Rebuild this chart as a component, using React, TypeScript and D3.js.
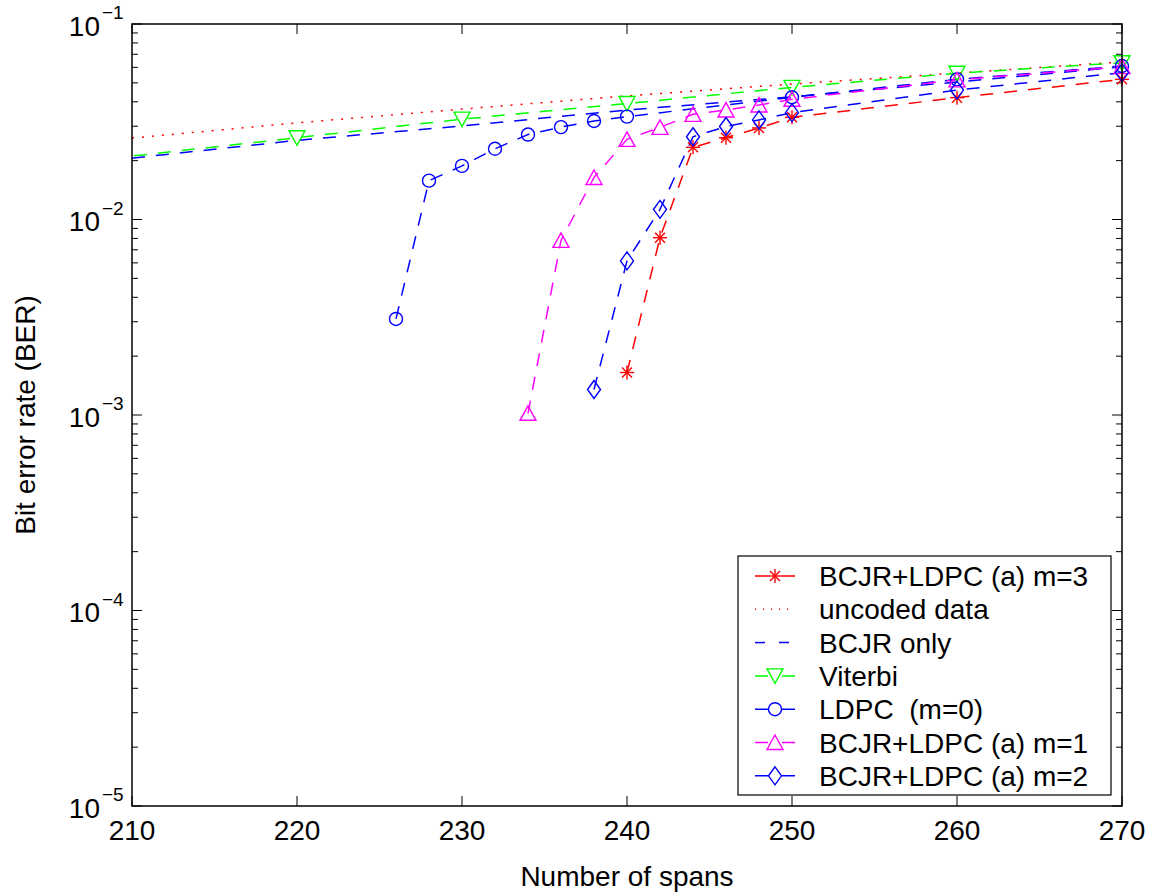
import React from "react";
import * as d3 from "d3";

// ---------- data ----------
const SPANS_M3 = [240, 242, 244, 246, 248, 250, 260, 270];
const BER_M3 = [0.00165, 0.00807, 0.0234, 0.0262, 0.0294, 0.0333, 0.042, 0.0521];

const SPANS_UNCODED = [210, 220, 230, 240, 250, 260, 270];
const BER_UNCODED = [0.0261, 0.0312, 0.0367, 0.0429, 0.0493, 0.0561, 0.064];

const SPANS_BCJR = [210, 220, 230, 240, 250, 260, 270];
const BER_BCJR = [0.0206, 0.0254, 0.0301, 0.0363, 0.0424, 0.0505, 0.0603];

const SPANS_VITERBI = [200, 220, 230, 240, 250, 260, 270];
const BER_VITERBI = [0.017, 0.0262, 0.0326, 0.0392, 0.0474, 0.056, 0.0634];

const SPANS_LDPC = [226, 228, 230, 232, 234, 236, 238, 240, 250, 260, 270];
const BER_LDPC = [0.0031, 0.0158, 0.0188, 0.023, 0.0272, 0.0297, 0.0319, 0.0336, 0.0422, 0.0521, 0.061];

const SPANS_M1 = [234, 236, 238, 240, 242, 244, 246, 248, 250, 260, 270];
const BER_M1 = [0.00102, 0.00782, 0.0164, 0.0257, 0.0296, 0.0345, 0.0363, 0.0385, 0.0412, 0.0518, 0.0605];

const SPANS_M2 = [238, 240, 242, 244, 246, 248, 250, 260, 270];
const BER_M2 = [0.00135, 0.00614, 0.01127, 0.0265, 0.0299, 0.0323, 0.0352, 0.0459, 0.0564];

const X_TICKS = [210, 220, 230, 240, 250, 260, 270];
const Y_DECADES = [-1, -2, -3, -4, -5];

const X_LABEL = "Number of spans";
const Y_LABEL = "Bit error rate (BER)";

type Marker = "star" | "none" | "tdown" | "circle" | "tup" | "diamond";
interface Series {
  name: string;
  xs: number[];
  ys: number[];
  color: string;
  dash: string;
  marker: Marker;
}

const SERIES: Series[] = [
  { name: "BCJR+LDPC (a) m=3", xs: SPANS_M3, ys: BER_M3, color: "#ff0000", dash: "13,11", marker: "star" },
  { name: "uncoded data", xs: SPANS_UNCODED, ys: BER_UNCODED, color: "#ff0000", dash: "2,8", marker: "none" },
  { name: "BCJR only", xs: SPANS_BCJR, ys: BER_BCJR, color: "#0000ff", dash: "13,11", marker: "none" },
  { name: "Viterbi", xs: SPANS_VITERBI, ys: BER_VITERBI, color: "#00ff00", dash: "13,11", marker: "tdown" },
  { name: "LDPC  (m=0)", xs: SPANS_LDPC, ys: BER_LDPC, color: "#0000ff", dash: "13,11", marker: "circle" },
  { name: "BCJR+LDPC (a) m=1", xs: SPANS_M1, ys: BER_M1, color: "#ff00ff", dash: "13,11", marker: "tup" },
  { name: "BCJR+LDPC (a) m=2", xs: SPANS_M2, ys: BER_M2, color: "#0000ff", dash: "13,11", marker: "diamond" },
];

const W = 1156;
const H = 896;
const L = 132, R = 1122, T = 24, B = 806;
const FONT = "'Liberation Sans', Arial, Helvetica, sans-serif";

function MarkerShape({ type, x, y, color }: { type: Marker; x: number; y: number; color: string }) {
  const common = { fill: "none", stroke: color, strokeWidth: 1.4 };
  if (type === "circle") return <circle cx={x} cy={y} r={6.5} {...common} />;
  if (type === "tup")
    return <polygon points={`${x},${y - 7.5} ${x + 8},${y + 7} ${x - 8},${y + 7}`} {...common} />;
  if (type === "tdown")
    return <polygon points={`${x - 8},${y - 7} ${x + 8},${y - 7} ${x},${y + 7.5}`} {...common} />;
  if (type === "diamond")
    return <polygon points={`${x},${y - 9} ${x + 6.5},${y} ${x},${y + 9} ${x - 6.5},${y}`} {...common} />;
  if (type === "star") {
    const r = 7, d = 5;
    return (
      <g stroke={color} strokeWidth={1.4}>
        <line x1={x - r} y1={y} x2={x + r} y2={y} />
        <line x1={x} y1={y - r} x2={x} y2={y + r} />
        <line x1={x - d} y1={y - d} x2={x + d} y2={y + d} />
        <line x1={x - d} y1={y + d} x2={x + d} y2={y - d} />
      </g>
    );
  }
  return null;
}

export default function App() {
  const x = d3.scaleLinear().domain([210, 270]).range([L, R]);
  const y = d3.scaleLog().domain([1e-5, 1e-1]).range([B, T]);
  const line = d3
    .line<[number, number]>()
    .x((d) => x(d[0]))
    .y((d) => y(d[1]));

  const minorTicks: number[] = [];
  for (let e = -5; e < -1; e++) {
    for (let k = 2; k <= 9; k++) minorTicks.push(k * Math.pow(10, e));
  }

  const legX = 738, legY = 556, legW = 373, legH = 239;
  const rowY = (i: number) => 576 + i * 33.3;

  return (
    <svg
      width={W}
      height={H}
      style={{ position: "absolute", left: 0, top: 0, background: "#fff" }}
      fontFamily={FONT}
    >
      <rect x={0} y={0} width={W} height={H} fill="#fff" />
      <defs>
        <clipPath id="plotClip">
          <rect x={L} y={T} width={R - L} height={B - T} />
        </clipPath>
      </defs>

      {/* ticks */}
      <g stroke="#000" strokeWidth={1}>
        {X_TICKS.map((t) => (
          <g key={"xt" + t}>
            <line x1={x(t)} x2={x(t)} y1={B} y2={B - 10} />
            <line x1={x(t)} x2={x(t)} y1={T} y2={T + 10} />
          </g>
        ))}
        {Y_DECADES.map((e) => (
          <g key={"yt" + e}>
            <line x1={L} x2={L + 10} y1={y(Math.pow(10, e))} y2={y(Math.pow(10, e))} />
            <line x1={R} x2={R - 10} y1={y(Math.pow(10, e))} y2={y(Math.pow(10, e))} />
          </g>
        ))}
        {minorTicks.map((v, i) => (
          <g key={"ym" + i}>
            <line x1={L} x2={L + 6} y1={y(v)} y2={y(v)} />
            <line x1={R} x2={R - 6} y1={y(v)} y2={y(v)} />
          </g>
        ))}
      </g>

      {/* series */}
      <g clipPath="url(#plotClip)">
        {SERIES.map((s) => (
          <path
            key={"l" + s.name}
            d={line(s.xs.map((v, i) => [v, s.ys[i]] as [number, number])) || ""}
            fill="none"
            stroke={s.color}
            strokeWidth={1.5}
            strokeDasharray={s.dash}
          />
        ))}
      </g>
      <g>
        {SERIES.map((s) =>
          s.xs.map((v, i) =>
            v >= 210 && v <= 270 ? (
              <MarkerShape key={s.name + i} type={s.marker} x={x(v)} y={y(s.ys[i])} color={s.color} />
            ) : null
          )
        )}
      </g>

      {/* axes box */}
      <rect x={L} y={T} width={R - L} height={B - T} fill="none" stroke="#000" strokeWidth={1.5} />

      {/* x tick labels */}
      <g fontSize={28} fill="#000" textAnchor="middle">
        {X_TICKS.map((t) => (
          <text key={"xl" + t} x={x(t)} y={840}>
            {t}
          </text>
        ))}
      </g>
      {/* y tick labels */}
      <g fill="#000">
        {Y_DECADES.map((e) => {
          const ty = y(Math.pow(10, e));
          return (
            <g key={"yl" + e}>
              <text x={100} y={ty + 11.5} fontSize={28} textAnchor="end">
                10
              </text>
              <text x={102} y={ty - 5} fontSize={19} textAnchor="start">
                {"\u2212" + Math.abs(e)}
              </text>
            </g>
          );
        })}
      </g>

      {/* axis labels */}
      <text x={(L + R) / 2} y={886} fontSize={28} textAnchor="middle" fill="#000">
        {X_LABEL}
      </text>
      <text
        transform={`translate(35,${(T + B) / 2}) rotate(-90)`}
        fontSize={28}
        textAnchor="middle"
        fill="#000"
      >
        {Y_LABEL}
      </text>

      {/* legend */}
      <rect x={legX} y={legY} width={legW} height={legH} fill="#fff" stroke="#000" strokeWidth={1.2} />
      {SERIES.map((s, i) => {
        const yy = rowY(i);
        return (
          <g key={"lg" + s.name}>
            <line
              x1={755}
              x2={795}
              y1={yy}
              y2={yy}
              stroke={s.color}
              strokeWidth={1.5}
              strokeDasharray={s.marker === "none" ? (s.dash === "2,8" ? "1,7" : "10,14") : "13,14,13"}
            />
            <MarkerShape type={s.marker} x={775} y={yy} color={s.color} />
            <text x={819} y={yy + 10} fontSize={28} fill="#000" style={{ whiteSpace: "pre" }}>
              {s.name}
            </text>
          </g>
        );
      })}
    </svg>
  );
}
